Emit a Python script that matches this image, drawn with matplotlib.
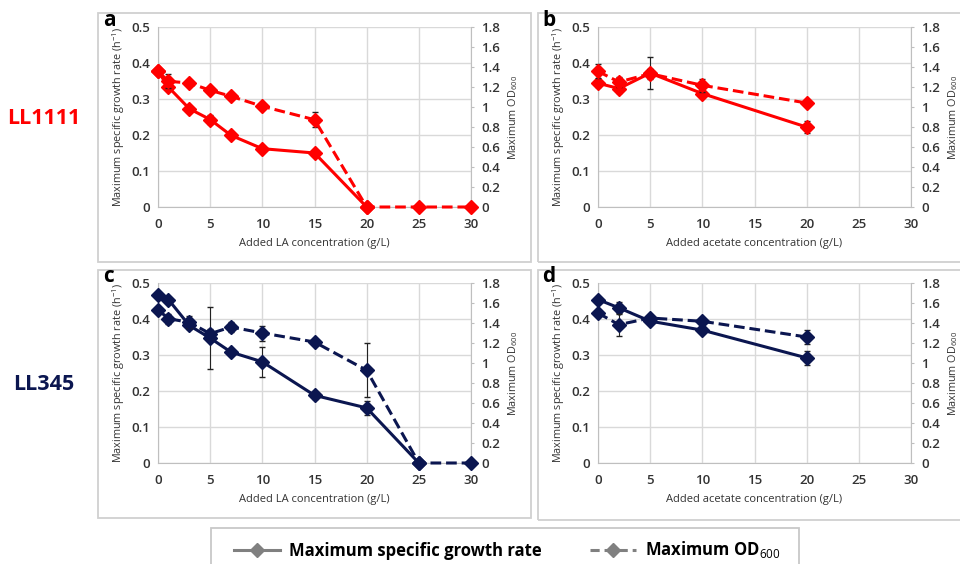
import matplotlib
matplotlib.use("Agg")
import matplotlib.pyplot as plt
from matplotlib.patches import Rectangle
from matplotlib.lines import Line2D

plt.rcParams["font.family"] = ["Open Sans", "DejaVu Sans"]
plt.rcParams["mathtext.fontset"] = "custom"
plt.rcParams["mathtext.rm"] = "Open Sans"
plt.rcParams["mathtext.bf"] = "Open Sans:bold"

RED, NAVY, GRID, TXT = "#FF0000", "#0B1650", "#D9D9D9", "#333333"

# ---- data ----
la_x = [0, 1, 3, 5, 7, 10, 15, 20, 25, 30]
ac_x = [0, 2, 5, 10, 20]

# LL1111 - LA
a_mu = [0.377, 0.333, 0.273, 0.243, 0.199, 0.162, 0.150, 0.0]
a_mu_err = [0.005, 0.006, 0.004, 0.013, 0.004, 0.004, 0.003, 0.0]
a_od = [1.357, 1.257, 1.24, 1.167, 1.107, 1.007, 0.873, 0.0, 0.0, 0.0]
a_od_err = [0.03, 0.07, 0.02, 0.03, 0.02, 0.02, 0.075, 0.0, 0.0, 0.0]

# LL1111 - acetate
b_mu = [0.344, 0.329, 0.372, 0.315, 0.222]
b_mu_err = [0.01, 0.012, 0.045, 0.008, 0.016]
b_od = [1.357, 1.25, 1.333, 1.217, 1.04]
b_od_err = [0.07, 0.05, 0.05, 0.067, 0.01]

# LL345 - LA
c_mu = [0.468, 0.454, 0.382, 0.347, 0.308, 0.281, 0.188, 0.153, 0.0]
c_mu_err = [0.004, 0.004, 0.01, 0.087, 0.005, 0.042, 0.01, 0.02, 0.0]
c_od = [1.533, 1.443, 1.407, 1.293, 1.36, 1.3, 1.21, 0.927, 0.0, 0.0]
c_od_err = [0.02, 0.05, 0.06, 0.05, 0.05, 0.075, 0.02, 0.27, 0.0, 0.0]

# LL345 - acetate
d_mu = [0.454, 0.431, 0.394, 0.369, 0.292]
d_mu_err = [0.005, 0.015, 0.006, 0.006, 0.02]
d_od = [1.5, 1.383, 1.45, 1.417, 1.26]
d_od_err = [0.02, 0.11, 0.03, 0.02, 0.07]

W, H = 960, 564
fig = plt.figure(figsize=(9.6, 5.64), dpi=100)

def box(x0, y0, x1, y1, ec="#D0D0D0", lw=1.3):
    fig.patches.append(Rectangle((x0 / W, 1 - y1 / H), (x1 - x0) / W, (y1 - y0) / H,
                                 transform=fig.transFigure, fill=False, ec=ec, lw=lw))

box(98, 13, 531, 262)
box(538, 13, 975, 262)
box(98, 270, 531, 518)
box(538, 270, 975, 520)
box(211, 528, 799, 580, ec="#C8C8C8")

def panel(px, py, letter, xs, mu, mu_err, od, od_err, color, xlabel):
    ax = fig.add_axes([px / W, 1 - (py + 180) / H, 313 / W, 180 / H])
    ax2 = ax.twinx()
    ax.set_xlim(0, 30); ax.set_ylim(0, 0.5)
    ax2.set_ylim(0, 1.8)
    ax.set_xticks(range(0, 31, 5)); ax.set_yticks([0, 0.1, 0.2, 0.3, 0.4, 0.5])
    ax.set_yticklabels(["0", "0.1", "0.2", "0.3", "0.4", "0.5"])
    ax2.set_yticks([0, 0.2, 0.4, 0.6, 0.8, 1, 1.2, 1.4, 1.6, 1.8])
    ax2.set_yticklabels(["0", "0.2", "0.4", "0.6", "0.8", "1", "1.2", "1.4", "1.6", "1.8"])
    ax.grid(True, color=GRID, lw=1)
    ax.set_axisbelow(True)
    for a in (ax, ax2):
        for s in a.spines.values():
            s.set_visible(False)
        a.tick_params(labelsize=9.5, colors=TXT, length=0)
        for lab in a.get_yticklabels() + a.get_xticklabels():
            lab.set_fontweight("semibold")
    ax.tick_params(axis="x", pad=8)
    ax.tick_params(axis="y", pad=5.5)
    ax.spines["left"].set_visible(True); ax.spines["bottom"].set_visible(True)
    ax.spines["left"].set_color("#BFBFBF"); ax.spines["bottom"].set_color("#BFBFBF")
    ax2.spines["right"].set_visible(True); ax2.spines["right"].set_color("#BFBFBF")
    ax2.tick_params(axis="y", length=2.5, color="#BFBFBF", pad=5)

    ax.errorbar(xs[:len(mu)], mu, yerr=mu_err, color=color, lw=2.2, marker="D", ms=7.5,
                ecolor="#222222", elinewidth=0.8, capsize=2, zorder=3, clip_on=False)
    ax2.errorbar(xs[:len(od)], od, yerr=od_err, color=color, lw=2.2, ls=(0, (3.5, 1.6)),
                 marker="D", ms=7.5, ecolor="#222222", elinewidth=0.8, capsize=2,
                 zorder=3, clip_on=False)

    ax.set_ylabel("Maximum specific growth rate (h$^{-1}$)", fontsize=7.8, color=TXT, labelpad=3)
    ax2.set_ylabel("Maximum OD$_{600}$", fontsize=7.8, color=TXT, labelpad=4)
    ax.set_xlabel(xlabel, fontsize=8, color=TXT, labelpad=5)
    fig.text((px - 49) / W, 1 - (py - 6) / H, letter, fontsize=15, fontweight="bold",
             ha="center", va="center", color="black")

panel(158, 27, "a", la_x, a_mu, a_mu_err, a_od, a_od_err, RED, "Added LA concentration (g/L)")
panel(598, 27, "b", ac_x, b_mu, b_mu_err, b_od, b_od_err, RED, "Added acetate concentration (g/L)")
panel(158, 283, "c", la_x, c_mu, c_mu_err, c_od, c_od_err, NAVY, "Added LA concentration (g/L)")
panel(598, 283, "d", ac_x, d_mu, d_mu_err, d_od, d_od_err, NAVY, "Added acetate concentration (g/L)")

fig.text(44 / W, 1 - 118 / H, "LL1111", fontsize=15.5, fontweight="bold", color=RED,
         ha="center", va="center")
fig.text(44 / W, 1 - 385 / H, "LL345", fontsize=15.5, fontweight="bold", color=NAVY,
         ha="center", va="center")

handles = [Line2D([], [], color="#808080", lw=2.2, marker="D", ms=7),
           Line2D([], [], color="#808080", lw=2.2, ls=(0, (3, 1.6)), marker="D", ms=7)]
fig.legend(handles, ["Maximum specific growth rate", "Maximum OD$_{600}$"],
           loc="center", bbox_to_anchor=(507 / W, 1 - 550 / H), ncol=2, frameon=False,
           prop={"size": 12, "weight": "bold"}, handlelength=2.8, columnspacing=2.9,
           handletextpad=0.5)

fig.savefig("out.png", dpi=100, facecolor="white")
